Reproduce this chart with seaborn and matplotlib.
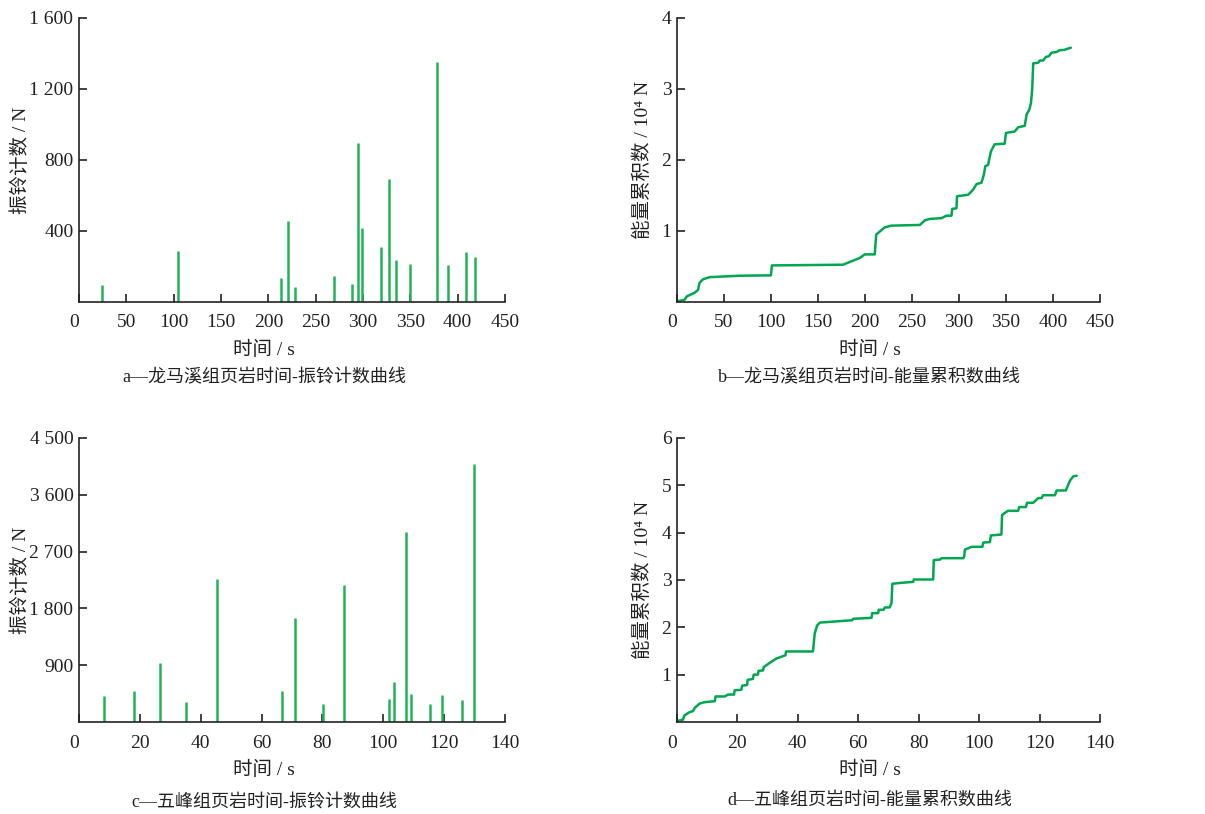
import numpy as np
import pandas as pd
import matplotlib
matplotlib.use("Agg")
import matplotlib.pyplot as plt
import seaborn as sns

sns.set_style("ticks")
plt.rcParams['font.family'] = ['Liberation Serif', 'Noto Sans CJK SC', 'DejaVu Sans']
plt.rcParams['axes.unicode_minus'] = False

GREEN = "#00a650"
BAR_GREEN = "#22b35a"

# ------------------ a: 龙马溪组 振铃计数 ------------------
a_time = [24, 105, 213, 221, 228, 269, 288, 294.4, 299.3, 319.4, 327.8,
          334.9, 349.6, 377.8, 390, 408.8, 418.3]
a_count = [94, 290, 134, 454, 85, 147, 102, 894, 414, 311, 693,
           239, 213, 1350, 211, 279, 252]
a_xticks = [0, 50, 100, 150, 200, 250, 300, 350, 400, 450]
a_yticks = [400, 800, 1200, 1600]
a_ylabels = ["400", "800", "1 200", "1 600"]

# ------------------ b: 龙马溪组 能量累积数 (10^4 N) ------------------
b_time = [0, 8, 10.6, 18.8, 22.4, 24, 27.7, 34.8, 66.7, 100, 101, 176.7,
          194.5, 199.8, 210.4, 212, 221, 228, 258.5, 263.7, 269, 281.4,
          286.7, 292, 292.8, 297.4, 298, 304.5, 309.8, 315, 318.7, 324,
          326.5, 328, 331, 334, 338, 348.7, 350, 359.3, 363, 370, 372,
          374.9, 376.6, 378, 379, 384.5, 386, 389.6, 392.5, 395.6, 398.5,
          403.8, 407, 412, 419]
b_energy = [0.01, 0.03, 0.08, 0.13, 0.17, 0.27, 0.32, 0.35, 0.37, 0.375,
            0.515, 0.525, 0.62, 0.67, 0.67, 0.95, 1.05, 1.075, 1.085, 1.15,
            1.17, 1.18, 1.215, 1.215, 1.31, 1.32, 1.49, 1.50, 1.51, 1.58,
            1.66, 1.68, 1.79, 1.91, 1.93, 2.12, 2.22, 2.23, 2.38, 2.40,
            2.46, 2.48, 2.64, 2.71, 2.80, 3.01, 3.36, 3.37, 3.40, 3.40,
            3.45, 3.46, 3.51, 3.52, 3.545, 3.55, 3.58]
b_xticks = [0, 50, 100, 150, 200, 250, 300, 350, 400, 450]
b_yticks = [1, 2, 3, 4]

# ------------------ c: 五峰组 振铃计数 ------------------
c_time = [8.3, 18.0, 26.6, 35.3, 45.3, 66.6, 71.1, 80.2, 87.1, 101.8,
          103.6, 107.3, 109.2, 115.3, 119.2, 125.8, 129.9]
c_count = [408, 487, 942, 323, 2271, 487, 1646, 286, 2176, 360,
           635, 3012, 439, 281, 429, 344, 4092]
c_xticks = [0, 20, 40, 60, 80, 100, 120, 140]
c_yticks = [900, 1800, 2700, 3600, 4500]
c_ylabels = ["900", "1 800", "2 700", "3 600", "4 500"]

# ------------------ d: 五峰组 能量累积数 (10^4 N) ------------------
d_time = [0, 2, 2.5, 4.2, 5.3, 5.9, 7.5, 9.2, 12.5, 12.8, 15.8, 16.9, 18.9,
          19.1, 21.3, 21.6, 23.2, 23.4, 25.1, 25.4, 26.8, 27, 28.5, 28.7,
          29.6, 30.7, 32.9, 35.9, 36.1, 45, 45.6, 46.4, 47.3, 51.7, 58,
          58.3, 64.4, 64.6, 66.6, 66.8, 68.4, 68.8, 70.4, 71, 71.3, 74.3,
          78.2, 78.4, 84.8, 85, 87, 87.6, 94.8, 95.1, 95.3, 97.5, 101.1,
          101.4, 103.6, 103.9, 107.4, 107.6, 109.5, 112.9, 113.3, 115.5,
          115.9, 117.9, 119.6, 120.7, 121.2, 125.1, 125.7, 128.7, 130.1,
          131.2, 132.3]
d_energy = [0.02, 0.05, 0.14, 0.21, 0.23, 0.30, 0.39, 0.42, 0.44, 0.54,
            0.54, 0.58, 0.58, 0.67, 0.68, 0.77, 0.78, 0.89, 0.91, 1.0, 1.0,
            1.08, 1.09, 1.16, 1.20, 1.25, 1.34, 1.41, 1.49, 1.49, 1.87,
            2.04, 2.10, 2.12, 2.15, 2.18, 2.20, 2.30, 2.30, 2.37, 2.37,
            2.42, 2.42, 2.51, 2.92, 2.94, 2.96, 3.01, 3.01, 3.42, 3.43,
            3.46, 3.46, 3.50, 3.64, 3.70, 3.70, 3.79, 3.80, 3.94, 3.96,
            4.37, 4.46, 4.46, 4.54, 4.54, 4.63, 4.63, 4.73, 4.73, 4.79,
            4.79, 4.89, 4.89, 5.10, 5.19, 5.20]
d_xticks = [0, 20, 40, 60, 80, 100, 120, 140]
d_yticks = [1, 2, 3, 4, 5, 6]

count_ylabel = "振铃计数 / N"
energy_ylabel = "能量累积数 / 10\u2074 N"
xlabel = "时间 / s"
captions = ["a—龙马溪组页岩时间-振铃计数曲线",
            "b—龙马溪组页岩时间-能量累积数曲线",
            "c—五峰组页岩时间-振铃计数曲线",
            "d—五峰组页岩时间-能量累积数曲线"]

fig = plt.figure(figsize=(12.05, 8.14), dpi=100)
ax_a = fig.add_axes([0.0656, 0.629, 0.3535, 0.349])
ax_b = fig.add_axes([0.5618, 0.629, 0.351, 0.349])
ax_c = fig.add_axes([0.0656, 0.113, 0.3535, 0.349])
ax_d = fig.add_axes([0.5618, 0.113, 0.351, 0.349])


def style_axes(ax, xticks, yticks, ylabels, ylab, xlab_x, ylab_x, caption, cap_y):
    sns.despine(ax=ax)
    ax.set_xlim(xticks[0], xticks[-1])
    ax.set_ylim(0, yticks[-1])
    ax.set_xticks(xticks)
    ax.set_xticklabels([str(t) for t in xticks])
    ax.set_yticks(yticks)
    ax.set_yticklabels(ylabels)
    ax.tick_params(direction="in", length=6, width=1.2, labelsize=14,
                   colors="#222222")
    ax.tick_params(axis="x", pad=9)
    ax.tick_params(axis="y", pad=4)
    ax.get_xticklabels()[0].set_ha("right")
    for s in ["left", "bottom"]:
        ax.spines[s].set_linewidth(1.2)
        ax.spines[s].set_color("#222222")
    ax.set_xlabel("")
    ax.set_ylabel(ylab, fontsize=14, color="#222222")
    ax.yaxis.set_label_coords(ylab_x, 0.5)
    ax.text(xlab_x, -0.169, xlabel, transform=ax.transAxes, ha="center",
            va="center", fontsize=14, color="#222222")
    ax.text(xlab_x, cap_y, caption, transform=ax.transAxes, ha="center",
            va="center", fontsize=13, color="#222222")


# a
ax_a.vlines(a_time, 0, a_count, color=BAR_GREEN, linewidth=1.8)
style_axes(ax_a, a_xticks, a_yticks, a_ylabels, count_ylabel, 0.435, -0.115,
           captions[0], -0.268)

# b
df_b = pd.DataFrame({"time": b_time, "energy": b_energy})
sns.lineplot(data=df_b, x="time", y="energy", ax=ax_b, color=GREEN,
             linewidth=1.8, estimator=None, sort=False)
style_axes(ax_b, b_xticks, b_yticks, [str(t) for t in b_yticks], energy_ylabel,
           0.456, -0.06, captions[1], -0.268)

# c
ax_c.vlines(c_time, 0, c_count, color=BAR_GREEN, linewidth=1.8)
style_axes(ax_c, c_xticks, c_yticks, c_ylabels, count_ylabel, 0.435, -0.115,
           captions[2], -0.282)

# d
df_d = pd.DataFrame({"time": d_time, "energy": d_energy})
sns.lineplot(data=df_d, x="time", y="energy", ax=ax_d, color=GREEN,
             linewidth=1.8, estimator=None, sort=False)
style_axes(ax_d, d_xticks, d_yticks, [str(t) for t in d_yticks], energy_ylabel,
           0.456, -0.06, captions[3], -0.275)

fig.savefig("out.png", dpi=100)
